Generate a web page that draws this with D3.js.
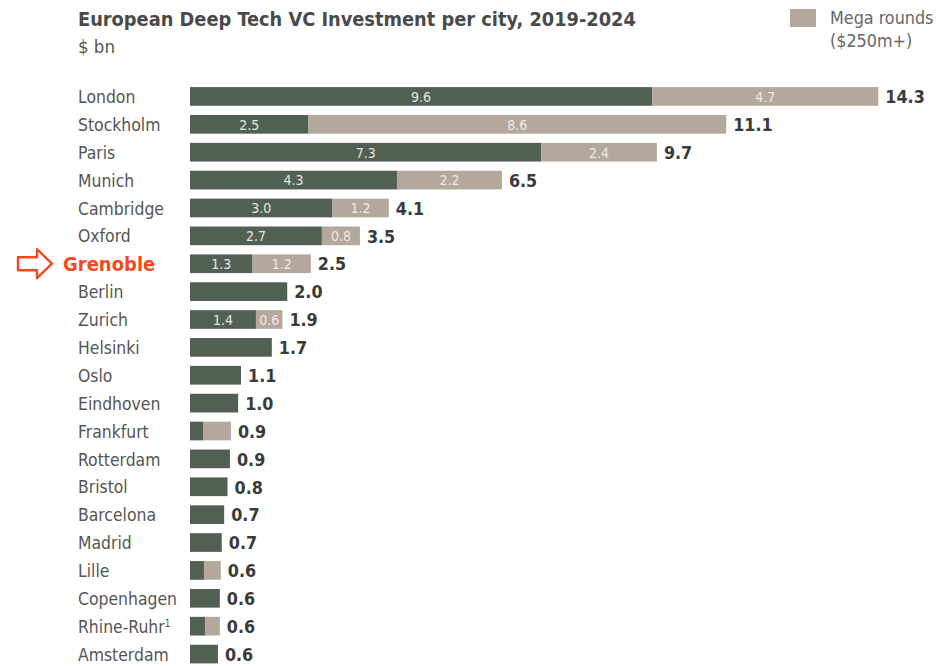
<!DOCTYPE html>
<html>
<head>
<meta charset="utf-8">
<script src="https://cdn.jsdelivr.net/npm/d3@7"></script>
<style>
  body { margin: 0; background: #fff; }
  svg text { font-family: "Liberation Sans Narrow", "DejaVu Sans Condensed", "Roboto Condensed", sans-serif; }
</style>
</head>
<body>
<svg id="chart" width="948" height="666"></svg>
<script>
// cities, top to bottom
var cities = ["London", "Stockholm", "Paris", "Munich", "Cambridge", "Oxford", "Grenoble",
  "Berlin", "Zurich", "Helsinki", "Oslo", "Eindhoven", "Frankfurt", "Rotterdam", "Bristol",
  "Barcelona", "Madrid", "Lille", "Copenhagen", "Rhine-Ruhr", "Amsterdam"];

// non-mega investment ($ bn)
var coreValues = [9.6, 2.46, 7.3, 4.3, 2.96, 2.74, 1.3,
  2.02, 1.37, 1.7, 1.06, 1.0, 0.28, 0.83, 0.78,
  0.71, 0.66, 0.29, 0.62, 0.32, 0.58];

// mega rounds ($250m+), $ bn
var megaValues = [4.7, 8.68, 2.4, 2.18, 1.17, 0.79, 1.21,
  0, 0.55, 0, 0, 0, 0.57, 0, 0,
  0, 0, 0.35, 0, 0.3, 0];

// labels printed inside the segments (null = none)
var coreLabels = ["9.6", "2.5", "7.3", "4.3", "3.0", "2.7", "1.3",
  null, "1.4", null, null, null, null, null, null, null, null, null, null, null, null];
var megaLabels = ["4.7", "8.6", "2.4", "2.2", "1.2", "0.8", "1.2",
  null, "0.6", null, null, null, null, null, null, null, null, null, null, null, null];

// totals as printed at bar ends
var totalLabels = ["14.3", "11.1", "9.7", "6.5", "4.1", "3.5", "2.5",
  "2.0", "1.9", "1.7", "1.1", "1.0", "0.9", "0.9", "0.8",
  "0.7", "0.7", "0.6", "0.6", "0.6", "0.6"];

var highlightCity = "Grenoble";

var colDark = "#525f53";
var colMega = "#b4a79b";

var svg = d3.select("#chart");

var x = d3.scaleLinear().domain([0, 14.3]).range([190, 878.3]);
var y = d3.scaleBand().domain(cities).range([82.5, 668]).paddingInner(0.33).paddingOuter(0.165);

var rows = cities.map(function(c, i) {
  return {city: c, core: coreValues[i], mega: megaValues[i],
    coreLabel: coreLabels[i], megaLabel: megaLabels[i], total: totalLabels[i]};
});

// title
svg.append("text").attr("x", 78).attr("y", 26)
  .attr("font-size", 19.8).attr("font-weight", "bold").attr("fill", "#4a4a4a")
  .text("European Deep Tech VC Investment per city, 2019-2024");
svg.append("text").attr("x", 78).attr("y", 53)
  .attr("font-size", 18.5).attr("fill", "#555")
  .text("$ bn");

// legend
svg.append("rect").attr("x", 790).attr("y", 9).attr("width", 26).attr("height", 18).attr("fill", colMega);
svg.append("text").attr("x", 830).attr("y", 24).attr("font-size", 17.8).attr("fill", "#666").text("Mega rounds");
svg.append("text").attr("x", 830).attr("y", 47).attr("font-size", 17.8).attr("fill", "#666").text("($250m+)");

var g = svg.append("g");
var row = g.selectAll("g.row").data(rows).join("g").attr("class", "row");

// core bar
row.append("rect")
  .attr("x", x(0))
  .attr("y", function(d) { return y(d.city); })
  .attr("width", function(d) { return x(d.core) - x(0); })
  .attr("height", y.bandwidth())
  .attr("fill", colDark);

// mega bar
row.filter(function(d) { return d.mega > 0; }).append("rect")
  .attr("x", function(d) { return x(d.core); })
  .attr("y", function(d) { return y(d.city); })
  .attr("width", function(d) { return x(d.core + d.mega) - x(d.core); })
  .attr("height", y.bandwidth())
  .attr("fill", colMega);

// labels inside segments
row.filter(function(d) { return d.coreLabel; }).append("text")
  .attr("x", function(d) { return (x(0) + x(d.core)) / 2; })
  .attr("y", function(d) { return y(d.city) + y.bandwidth() / 2; })
  .attr("dy", "0.38em").attr("text-anchor", "middle")
  .attr("font-size", 14).attr("fill", "#e4e4e0")
  .text(function(d) { return d.coreLabel; });

row.filter(function(d) { return d.megaLabel; }).append("text")
  .attr("x", function(d) { return (x(d.core) + x(d.core + d.mega)) / 2; })
  .attr("y", function(d) { return y(d.city) + y.bandwidth() / 2; })
  .attr("dy", "0.38em").attr("text-anchor", "middle")
  .attr("font-size", 14).attr("fill", "#eeeae6")
  .text(function(d) { return d.megaLabel; });

// totals
row.append("text")
  .attr("x", function(d) { return x(d.core + d.mega) + 7; })
  .attr("y", function(d) { return y(d.city) + y.bandwidth() / 2; })
  .attr("dy", "0.38em")
  .attr("font-size", 17.8).attr("font-weight", "bold").attr("fill", "#3a3a3a")
  .text(function(d) { return d.total; });

// city names
row.append("text")
  .attr("x", function(d) { return d.city === highlightCity ? 63 : 78; })
  .attr("y", function(d) { return y(d.city) + y.bandwidth() / 2; })
  .attr("dy", "0.38em")
  .attr("font-size", function(d) { return d.city === highlightCity ? 20 : 17.4; })
  .attr("font-weight", function(d) { return d.city === highlightCity ? "bold" : "normal"; })
  .attr("fill", function(d) { return d.city === highlightCity ? "#f04a1e" : "#555"; })
  .each(function(d) {
    var t = d3.select(this);
    if (d.city === "Rhine-Ruhr") {
      t.text("Rhine-Ruhr");
      t.append("tspan").attr("font-size", 10).attr("dy", "-0.6em").text("1");
    } else {
      t.text(d.city);
    }
  });

// arrow pointing at the highlighted city
var ay = y(highlightCity) + y.bandwidth() / 2;
svg.append("path")
  .attr("transform", "translate(18," + ay + ")")
  .attr("d", "M0,-6.5 L19,-6.5 L19,-14.5 L34,0 L19,14.5 L19,6.5 L0,6.5 Z")
  .attr("fill", "none").attr("stroke", "#f04a1e").attr("stroke-width", 2.4)
  .attr("stroke-linejoin", "round");
</script>
</body>
</html>
